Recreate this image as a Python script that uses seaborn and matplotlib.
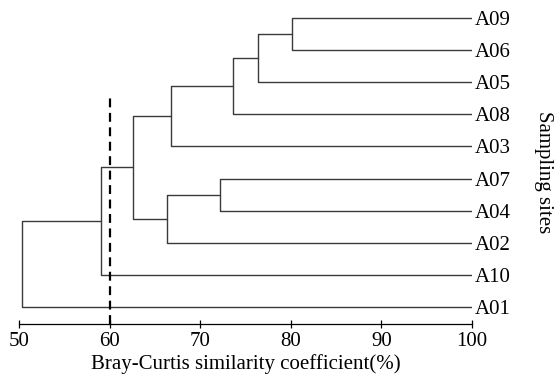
import matplotlib
matplotlib.use("Agg")
import matplotlib.pyplot as plt
import seaborn as sns
import pandas as pd
import numpy as np

# ---- data ----
leaves = ['A09', 'A06', 'A05', 'A08', 'A03', 'A07', 'A04', 'A02', 'A10', 'A01']
merge_left = ['A09', 'N1', 'N2', 'N3', 'A07', 'N5', 'N4', 'N7', 'N8']
merge_right = ['A06', 'A05', 'A08', 'A03', 'A04', 'A02', 'N6', 'A10', 'A01']
merge_sim = [80.1, 76.4, 73.6, 66.8, 72.2, 66.3, 62.6, 59.0, 50.3]
x_ticks = [50, 60, 70, 80, 90, 100]
cutoff = 60

# ---- build dendrogram segments from merge structure ----
pos = {name: (100.0, float(i)) for i, name in enumerate(leaves)}
rows = []
for k, (l, r, s) in enumerate(zip(merge_left, merge_right, merge_sim)):
    hl, yl = pos[l]
    hr, yr = pos[r]
    pts = [(hl, yl), (s, yl), (s, yr), (hr, yr)]
    for j, (xx, yy) in enumerate(pts):
        rows.append({'seg': k, 'order': j, 'x': xx, 'y': yy})
    pos[f'N{k + 1}'] = (s, (yl + yr) / 2)
df = pd.DataFrame(rows)

sns.set_theme(style='white')
plt.rcParams['font.family'] = ['Liberation Serif', 'DejaVu Serif']

dpi = 100
fig = plt.figure(figsize=(558 / dpi, 379 / dpi), dpi=dpi)
W, H = 558, 379
ax_left, ax_right = 19, 472
ax_top, ax_bottom = 0, 324
ax = fig.add_axes([ax_left / W, (H - ax_bottom) / H, (ax_right - ax_left) / W, (ax_bottom - ax_top) / H])

sns.lineplot(data=df, x='x', y='y', units='seg', estimator=None, sort=False,
             color='#3a3a3a', linewidth=1.0, ax=ax, legend=False)

# y scaling: leaf 0 at px 18, spacing 32.1 px
y0, dy = 18.0, 32.1
ax.set_ylim((ax_bottom - y0) / dy, (ax_top - y0) / dy)
ax.set_xlim(50, 100)

# cutoff dashed line
top_px = 96.7
ax.axvline(cutoff, ymin=0, ymax=(ax_bottom - top_px) / (ax_bottom - ax_top),
           color='black', linewidth=1.6, linestyle=(0, (4, 2.5)))

fs = 15
ax.set_xticks(x_ticks)
ax.set_xticklabels([str(t) for t in x_ticks], fontsize=fs)
ax.tick_params(axis='x', bottom=True, direction='inout', length=6, width=0.9,
               color='black', pad=3, labelcolor='black')

ax.yaxis.tick_right()
ax.set_yticks(range(len(leaves)))
ax.set_yticklabels(leaves, fontsize=fs)
ax.tick_params(axis='y', length=0, pad=2, labelcolor='black')

for side in ['top', 'left', 'right']:
    ax.spines[side].set_visible(False)
ax.spines['bottom'].set_color('black')
ax.spines['bottom'].set_linewidth(0.9)

ax.set_xlabel('Bray-Curtis similarity coefficient(%)', fontsize=fs, color='black', labelpad=2)
ax.yaxis.set_label_position('right')
ax.set_ylabel('Sampling sites', fontsize=fs, color='black', rotation=270)
ax.yaxis.label.set_va('center')
ax.yaxis.label.set_ha('center')
ax.yaxis.set_label_coords((543 - ax_left) / (ax_right - ax_left), (ax_bottom - 172) / (ax_bottom - ax_top))

fig.savefig('out.png', dpi=dpi)
